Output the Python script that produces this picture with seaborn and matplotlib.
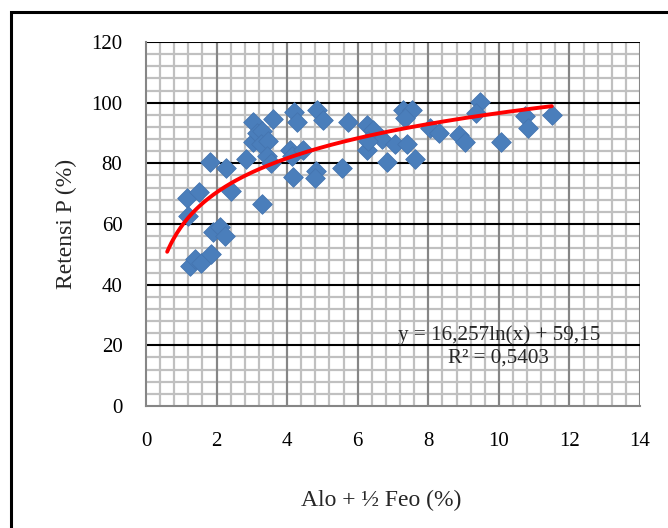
import numpy as np
import pandas as pd
import matplotlib
matplotlib.use("Agg")
import matplotlib.pyplot as plt
from matplotlib.patches import Rectangle
from matplotlib.ticker import MultipleLocator
import seaborn as sns

# ---- data ----
alo_feo = [1.15, 1.50, 1.20, 1.25, 1.40, 1.55, 1.85, 1.80, 1.90, 2.10,
           2.25, 2.27, 2.40, 2.83, 3.02, 3.02, 3.15, 3.30, 3.25, 3.47,
           3.28, 3.42, 3.55, 3.60, 4.08, 4.15, 4.46, 4.20, 4.27, 4.17,
           4.84, 5.02, 4.82, 4.80, 5.55, 5.73, 6.25, 6.44, 6.25, 6.70,
           6.82, 7.06, 7.39, 7.62, 7.29, 7.53, 7.34, 8.05, 8.30, 8.87,
           9.04, 9.46, 9.34, 10.05, 10.74, 10.83, 11.50, 6.30]
retensi = [68.5, 70.5, 62.5, 46.0, 48.5, 47.0, 50.0, 80.5, 57.5, 59.0,
           56.0, 78.5, 71.0, 81.5, 87.0, 93.5, 90.0, 90.5, 86.5, 87.5,
           66.5, 82.5, 80.0, 94.5, 84.5, 82.5, 84.5, 97.0, 93.5, 75.5,
           97.5, 94.3, 77.5, 75.0, 78.5, 93.5, 92.5, 91.0, 84.5, 88.0,
           80.5, 86.5, 86.5, 81.5, 97.5, 97.5, 95.0, 91.5, 90.0, 89.5,
           87.0, 100.3, 96.5, 87.0, 95.5, 91.5, 96.0, 87.5]

# logarithmic trend line as printed on the chart
trend_a = 16.257
trend_b = 59.15
trend_xmin, trend_xmax = 0.6, 11.5
eq_text = "y = 16,257ln(x) + 59,15"
r2_text = "R\u00b2 = 0,5403"

x_label = "Alo + \u00bd Feo (%)"
y_label = "Retensi P (%)"

sns.set_theme(style="white")
plt.rcParams['font.family'] = ['Liberation Serif', 'DejaVu Serif']

fig = plt.figure(figsize=(6.68, 5.28), dpi=100)
ax = fig.add_axes([146/668, 1-406/528, (640-146)/668, (406-42)/528])

df = pd.DataFrame({"x": alo_feo, "y": retensi})
sns.scatterplot(data=df, x="x", y="y", ax=ax, marker="D", s=100,
                color="#4A7EBB", edgecolor="#4575B0", linewidth=0.6, zorder=3)

xt = np.linspace(trend_xmin, trend_xmax, 200)
tdf = pd.DataFrame({"x": xt, "y": trend_a*np.log(xt) + trend_b})
sns.lineplot(data=tdf, x="x", y="y", ax=ax, color="#FF0000", linewidth=2.8, zorder=4)

ax.set_xlim(0, 14)
ax.set_ylim(0, 120)
ax.xaxis.set_major_locator(MultipleLocator(2))
ax.xaxis.set_minor_locator(MultipleLocator(0.4))
ax.yaxis.set_major_locator(MultipleLocator(20))
ax.yaxis.set_minor_locator(MultipleLocator(4))

ax.grid(False)
ax.set_axisbelow(True)
# minor grid
for v in np.arange(0.4, 14, 0.4):
    ax.axvline(v, color="#C0C0C0", lw=1.6, zorder=0)
for v in np.arange(4, 120, 4):
    if v % 20:
        ax.axhline(v, color="#C0C0C0", lw=1.6, zorder=0)
# major grid
for v in range(2, 15, 2):
    ax.axvline(v, color="#868686", lw=1.5, zorder=1)
for v in range(20, 121, 20):
    ax.axhline(v, color="#000000", lw=1.5, zorder=1)

for s in ["top", "right"]:
    ax.spines[s].set_visible(False)
for s in ["left", "bottom"]:
    ax.spines[s].set_color("#868686")
    ax.spines[s].set_linewidth(1.5)

ax.tick_params(axis="both", which="major", direction="out", length=6,
               width=1.5, color="#868686", labelsize=15, labelcolor="black")
ax.tick_params(axis="x", pad=13)
ax.tick_params(axis="y", pad=11)
ax.tick_params(which="minor", length=0)

ax.set_xlabel(x_label, fontsize=17, labelpad=28)
ax.xaxis.label.set_x((381 - 146) / 494)
ax.set_ylabel(y_label, fontsize=17, labelpad=10)

ax.text(10.0, 23.5, eq_text, ha="center", va="center", fontsize=15.2, zorder=5)
ax.text(10.0, 15.8, r2_text, ha="center", va="center", fontsize=15.2, zorder=5)

# outer chart frame (left/top visible, right/bottom run off the image)
fig.patches.append(Rectangle((10.5/668, -0.1), 1.2, 1.1 - 12/528,
                             transform=fig.transFigure, fill=False,
                             edgecolor="black", linewidth=2.2))

fig.savefig("out.png", dpi=100)
